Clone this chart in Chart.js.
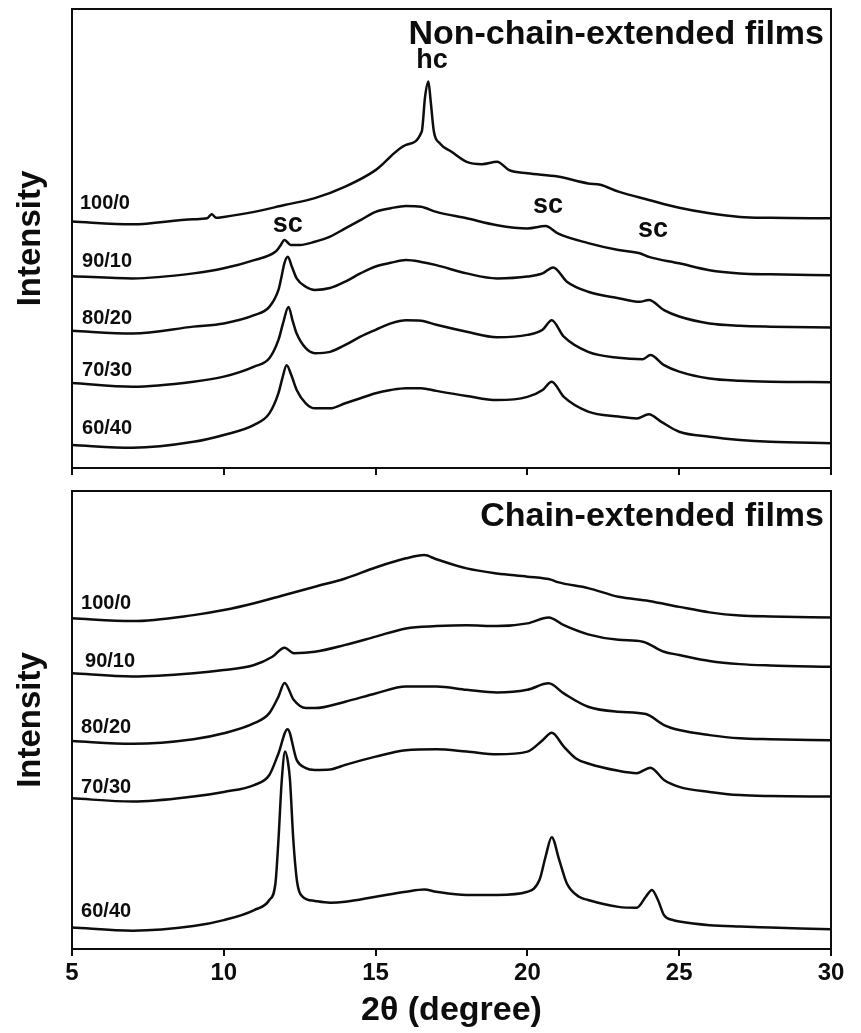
<!DOCTYPE html>
<html>
<head>
<meta charset="utf-8">
<script src="https://cdn.jsdelivr.net/npm/chart.js@4.4.1/dist/chart.umd.min.js"></script>
<style>
    html, body { margin: 0; padding: 0; background: #fff; }
    #wrap { position: relative; width: 861px; height: 1033px; }
    .panel { position: absolute; left: 0; width: 861px; }
    #topPanel { top: 0; height: 480px; }
    #bottomPanel { top: 480px; height: 553px; }
</style>
</head>
<body>
<div id="wrap">
    <div class="panel" id="topPanel"><canvas id="topChart"></canvas></div>
    <div class="panel" id="bottomPanel"><canvas id="bottomChart"></canvas></div>
</div>
<script>
// XRD patterns, 2theta (degree) vs stacked intensity (a.u.)
const blendRatios = ["100/0", "90/10", "80/20", "70/30", "60/40"];
const xTicks = [5, 10, 15, 20, 25, 30];

// Non-chain-extended films
const nce100_x = [5, 7, 9, 9.45, 9.6, 9.75, 10, 11, 12, 13, 14, 15, 16, 16.52, 16.63, 16.74, 16.81, 16.92, 17.12, 17.5, 18, 18.5, 19, 19.4, 20, 21, 22, 22.4, 23, 24, 25, 26, 27, 28, 30];
const nce100_y = [53.7, 53.1, 54.2, 54.4, 55.3, 54.5, 54.7, 55.8, 57.3, 58.8, 61.3, 64.9, 70.4, 73.3, 80.9, 84.2, 80.2, 73.3, 70.7, 68.9, 66.7, 66.2, 66.7, 64.9, 64.2, 63.5, 62.0, 61.7, 60.2, 58.4, 56.7, 55.5, 54.7, 54.5, 54.4];

const nce90_x = [5, 7, 9, 10, 11, 11.7, 11.85, 12.0, 12.2, 12.5, 13, 13.5, 14, 14.5, 15, 15.5, 16, 16.5, 17, 18, 19, 20, 20.6, 21, 22, 23, 23.7, 24, 25, 26, 27, 28, 30];
const nce90_y = [41.8, 41.3, 42.4, 43.5, 45.3, 47.1, 48.3, 49.7, 48.6, 48.6, 49.3, 50.4, 52.2, 54.0, 55.8, 56.6, 57.1, 56.9, 55.8, 54.4, 52.9, 52.2, 52.7, 51.1, 49.0, 47.5, 46.8, 46.0, 44.6, 43.1, 42.4, 42.2, 42.0];

const nce80_x = [5, 7, 9, 10, 11, 11.5, 11.8, 11.88, 12.0, 12.11, 12.24, 12.4, 12.7, 13, 13.5, 14, 14.5, 15, 15.5, 16, 16.5, 17, 18, 19, 20, 20.5, 20.85, 21.3, 22, 23, 23.7, 24, 24.5, 25, 26, 27, 28, 30];
const nce80_y = [29.9, 29.3, 30.8, 31.5, 33.3, 35.1, 38.8, 41.0, 44.7, 46.0, 43.9, 41.3, 39.5, 38.8, 39.2, 40.6, 42.4, 43.9, 44.7, 45.3, 44.9, 44.2, 42.4, 41.3, 41.7, 42.4, 43.7, 40.6, 38.4, 37.0, 36.2, 36.6, 34.4, 33.0, 31.5, 31.0, 30.8, 30.6];

const nce70_x = [5, 7, 9, 10, 11, 11.5, 11.8, 11.95, 12.13, 12.27, 12.4, 12.7, 13, 13.5, 14, 14.5, 15, 15.5, 16, 16.5, 17, 18, 19, 20, 20.5, 20.8, 21.2, 22, 23, 23.8, 24.05, 24.5, 25, 26, 27, 28, 30];
const nce70_y = [18.5, 17.7, 18.8, 19.9, 22.1, 23.9, 27.9, 31.5, 35.1, 32.0, 29.3, 26.1, 25.0, 25.3, 26.8, 28.6, 30.1, 31.5, 32.2, 32.1, 31.2, 29.7, 28.5, 29.0, 30.1, 32.2, 28.6, 25.3, 24.0, 23.7, 24.6, 22.4, 21.0, 19.5, 19.0, 18.8, 18.7];

const nce60_x = [5, 7, 9, 10, 11, 11.5, 11.8, 11.93, 12.07, 12.22, 12.4, 12.7, 13, 13.5, 14, 14.5, 15, 15.5, 16, 16.5, 17, 18, 19, 20, 20.5, 20.8, 21.2, 22, 23, 23.6, 24, 24.4, 25, 26, 27, 28, 30];
const nce60_y = [5.0, 4.4, 5.7, 7.2, 9.4, 11.9, 16.3, 19.6, 22.4, 20.3, 17.0, 14.1, 13.0, 13.0, 14.1, 15.2, 16.3, 17.0, 17.4, 17.4, 16.8, 15.7, 14.8, 15.5, 17.0, 18.8, 15.5, 12.3, 11.2, 10.8, 11.7, 10.1, 7.9, 6.8, 6.1, 5.7, 5.4];

// Chain-extended films
const ce100_x = [5, 7, 9, 10, 11, 12, 13, 14, 15, 16, 16.6, 17, 18, 19, 20, 20.8, 21, 22, 23, 24, 25, 26, 27, 28, 30];
const ce100_y = [72.2, 71.6, 72.9, 74.0, 75.5, 77.3, 79.1, 80.9, 83.3, 85.3, 86.0, 85.1, 83.1, 82.0, 81.3, 80.6, 80.1, 78.8, 76.9, 76.0, 74.7, 73.5, 72.8, 72.6, 72.4];

const ce90_x = [5, 7, 9, 10, 11, 11.6, 12.0, 12.3, 13, 14, 15, 16, 17, 18, 19, 20, 20.7, 21.2, 22, 23, 23.8, 24.5, 25, 26, 27, 28, 30];
const ce90_y = [60.2, 59.5, 60.2, 60.9, 62.0, 63.8, 65.8, 64.6, 64.9, 66.4, 68.2, 70.0, 70.5, 70.7, 70.5, 71.1, 72.4, 70.7, 68.7, 67.5, 67.1, 64.9, 64.2, 62.9, 62.2, 61.9, 61.6];

const ce80_x = [5, 7, 9, 10, 11, 11.5, 11.8, 12.0, 12.3, 12.7, 13, 14, 15, 16, 17, 18, 19, 20, 20.7, 21.2, 22, 23, 23.9, 24.5, 25, 26, 27, 28, 30];
const ce80_y = [45.4, 44.8, 45.8, 47.1, 49.3, 51.5, 55.1, 58.1, 54.4, 52.6, 52.6, 54.0, 55.8, 57.3, 57.3, 56.6, 56.0, 56.6, 58.0, 55.8, 52.9, 51.8, 51.3, 48.9, 47.8, 46.7, 46.0, 45.8, 45.6];

const ce70_x = [5, 7, 9, 10, 11, 11.5, 11.8, 12.1, 12.4, 12.7, 13, 13.5, 14, 15, 16, 17, 18, 19, 20, 20.5, 20.8, 21.2, 21.6, 22, 23, 23.6, 24.05, 24.5, 25, 26, 27, 28, 30];
const ce70_y = [32.9, 32.2, 33.3, 34.3, 35.8, 38.0, 42.7, 48.0, 41.3, 39.5, 39.1, 39.2, 40.2, 42.0, 43.4, 43.6, 43.1, 42.5, 43.1, 45.6, 47.2, 44.2, 41.6, 40.5, 38.9, 38.4, 39.6, 36.9, 35.4, 34.3, 33.6, 33.4, 33.3];

const ce60_x = [5, 7, 9, 10, 11, 11.5, 11.7, 11.8, 11.91, 12.02, 12.12, 12.18, 12.29, 12.42, 12.6, 13, 13.5, 14, 15, 16, 16.6, 17, 18, 19, 20, 20.4, 20.6, 20.8, 21.05, 21.3, 21.7, 22, 23, 23.6, 23.9, 24.1, 24.3, 24.5, 24.8, 25, 26, 27, 28, 30];
const ce60_y = [4.7, 4.0, 5.0, 6.3, 8.5, 10.7, 14.3, 23.8, 36.9, 43.1, 40.5, 36.9, 23.8, 14.4, 11.4, 10.5, 10.1, 10.3, 11.4, 12.5, 13.0, 12.5, 11.8, 11.8, 12.5, 15.1, 20.2, 24.4, 19.4, 14.3, 11.4, 10.7, 9.2, 9.0, 11.4, 12.9, 10.7, 7.4, 6.3, 6.0, 5.2, 4.9, 4.7, 4.3];

// label anchors: [2theta, intensity]
const nceLabelPos = [[5.26, 56.4], [5.33, 43.8], [5.33, 31.4], [5.33, 20.0], [5.33, 7.4]];
const ceLabelPos = [[5.3, 74.2], [5.43, 61.6], [5.3, 47.2], [5.3, 34.1], [5.3, 7.0]];
const peakMarks = [
    { text: "hc", x: 16.86, y: 87.1 },
    { text: "sc", x: 12.11, y: 51.4 },
    { text: "sc", x: 20.68, y: 55.6 },
    { text: "sc", x: 24.14, y: 50.3 }
];

const FONT = "'Liberation Sans', Arial, Helvetica, sans-serif";
const INK = "#0d0d0d";

function toPoints(xs, ys) {
    return xs.map((x, i) => ({ x: x, y: ys[i] }));
}

function makeDataset(xs, ys, label) {
    return {
        label: label,
        data: toPoints(xs, ys),
        borderColor: INK,
        borderWidth: 2.5,
        pointRadius: 0,
        fill: false,
        cubicInterpolationMode: "monotone"
    };
}

// box around the plot area
const framePlugin = {
    id: "frame",
    afterDraw(chart) {
        const { ctx, chartArea: a } = chart;
        ctx.save();
        ctx.strokeStyle = INK;
        ctx.lineWidth = 2;
        ctx.strokeRect(a.left, a.top, a.right - a.left, a.bottom - a.top);
        ctx.restore();
    }
};

// blend labels, peak marks and panel heading
const textPlugin = {
    id: "panelText",
    afterDatasetsDraw(chart, args, opts) {
        const { ctx, chartArea, scales } = chart;
        const xs = scales.x, ys = scales.y;
        ctx.save();
        ctx.fillStyle = INK;
        ctx.textBaseline = "alphabetic";

        ctx.font = "bold 20px " + FONT;
        ctx.textAlign = "left";
        opts.labelPos.forEach((p, i) => {
            ctx.fillText(blendRatios[i], xs.getPixelForValue(p[0]), ys.getPixelForValue(p[1]));
        });

        if (opts.showPeaks) {
            ctx.font = "bold 27px " + FONT;
            ctx.textAlign = "center";
            peakMarks.forEach(m => {
                ctx.fillText(m.text, xs.getPixelForValue(m.x), ys.getPixelForValue(m.y));
            });
        }

        ctx.font = "bold 34px " + FONT;
        ctx.textAlign = "right";
        ctx.fillText(opts.heading, chartArea.right - 7, chartArea.top + 35);
        ctx.restore();
    }
};

function renderPanel(canvas, series, cfg) {
    return new Chart(canvas, {
        type: "line",
        data: {
            datasets: series.map((s, i) => makeDataset(s[0], s[1], blendRatios[i]))
        },
        options: {
            responsive: true,
            maintainAspectRatio: false,
            animation: false,
            devicePixelRatio: 1,
            layout: {
                padding: { top: cfg.padTop, right: 30, left: 0, bottom: 0 }
            },
            plugins: {
                legend: { display: false },
                tooltip: { enabled: false },
                panelText: {
                    heading: cfg.heading,
                    labelPos: cfg.labelPos,
                    showPeaks: cfg.showPeaks
                }
            },
            scales: {
                x: {
                    type: "linear",
                    min: 5,
                    max: 30,
                    afterBuildTicks: scale => {
                        scale.ticks = xTicks.map(v => ({ value: v }));
                    },
                    ticks: {
                        display: cfg.showTickLabels,
                        autoSkip: false,
                        maxRotation: 0,
                        padding: 3,
                        color: INK,
                        font: { family: FONT, size: 24, weight: "bold" }
                    },
                    grid: {
                        drawOnChartArea: false,
                        drawTicks: true,
                        tickLength: 7,
                        color: INK,
                        lineWidth: 2
                    },
                    border: { display: false },
                    title: {
                        display: cfg.showTickLabels,
                        text: "2θ (degree)",
                        color: INK,
                        font: { family: FONT, size: 34, weight: "bold" },
                        padding: { top: 0, bottom: 2 }
                    },
                    afterFit: scale => {
                        scale.height = cfg.xHeight;
                    }
                },
                y: {
                    type: "linear",
                    min: 0,
                    max: 100,
                    ticks: { display: false },
                    grid: { display: false },
                    border: { display: false },
                    title: {
                        display: true,
                        text: "Intensity",
                        color: INK,
                        font: { family: FONT, size: 33, weight: "bold" },
                        padding: { top: 11, bottom: 0 }
                    },
                    afterFit: scale => {
                        scale.width = 72;
                    }
                }
            }
        },
        plugins: [framePlugin, textPlugin]
    });
}

renderPanel(document.getElementById("topChart"), [
    [nce100_x, nce100_y],
    [nce90_x, nce90_y],
    [nce80_x, nce80_y],
    [nce70_x, nce70_y],
    [nce60_x, nce60_y]
], {
    heading: "Non-chain-extended films",
    labelPos: nceLabelPos,
    showPeaks: true,
    showTickLabels: false,
    padTop: 9,
    xHeight: 12
});

renderPanel(document.getElementById("bottomChart"), [
    [ce100_x, ce100_y],
    [ce90_x, ce90_y],
    [ce80_x, ce80_y],
    [ce70_x, ce70_y],
    [ce60_x, ce60_y]
], {
    heading: "Chain-extended films",
    labelPos: ceLabelPos,
    showPeaks: false,
    showTickLabels: true,
    padTop: 11,
    xHeight: 84
});
</script>
</body>
</html>
